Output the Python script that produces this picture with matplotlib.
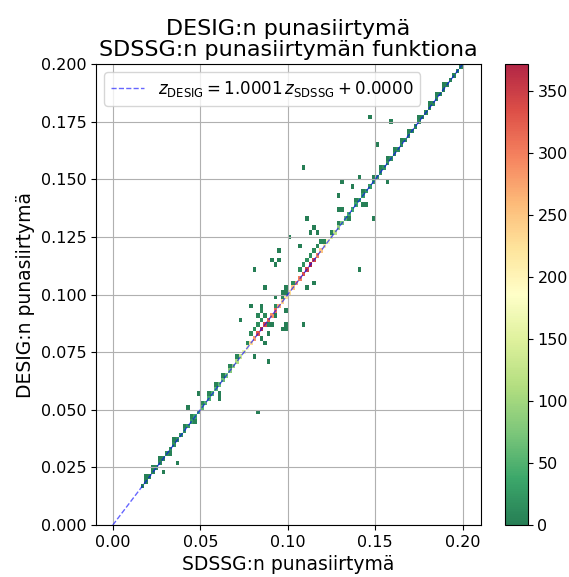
import matplotlib
matplotlib.use("Agg")
import matplotlib.pyplot as plt
import numpy as np

# redshift bins lying on the diagonal (SDSS z == DESI z) and their counts
diag_z = [0.017, 0.019, 0.021, 0.023, 0.025, 0.027, 0.029, 0.031, 0.033, 0.035,
          0.037, 0.039, 0.041, 0.043, 0.045, 0.047, 0.049, 0.051, 0.053, 0.055,
          0.057, 0.059, 0.061, 0.063, 0.065, 0.067, 0.069, 0.071, 0.073, 0.075,
          0.077, 0.079, 0.081, 0.083, 0.085, 0.087, 0.089, 0.091, 0.093, 0.095,
          0.097, 0.099, 0.101, 0.103, 0.105, 0.107, 0.109, 0.111, 0.113, 0.115,
          0.117, 0.119, 0.121, 0.123, 0.125, 0.127, 0.129, 0.131, 0.133, 0.135,
          0.137, 0.139, 0.141, 0.143, 0.145, 0.147, 0.149, 0.151, 0.153, 0.155,
          0.157, 0.159, 0.161, 0.163, 0.165, 0.167, 0.169, 0.171, 0.173, 0.175,
          0.177, 0.179, 0.181, 0.183, 0.185, 0.187, 0.189, 0.191, 0.193, 0.195,
          0.197, 0.199]
diag_n = [3, 4, 5, 6, 8, 9, 10, 12, 14, 15,
          17, 18, 20, 24, 28, 35, 45, 55, 50, 45,
          50, 55, 60, 65, 70, 80, 90, 110, 130, 160,
          190, 230, 280, 330, 360, 340, 320, 290, 310, 270,
          240, 220, 230, 250, 280, 300, 330, 350, 370, 340,
          300, 250, 210, 180, 150, 120, 90, 70, 55, 45,
          40, 36, 32, 30, 28, 26, 24, 22, 20, 18,
          17, 16, 15, 14, 13, 12, 11, 10, 10, 9,
          8, 8, 7, 7, 6, 6, 5, 5, 4, 4,
          3, 3]

# bins just beside the diagonal
near_x = [0.019, 0.023, 0.027, 0.033, 0.035, 0.041, 0.045, 0.047, 0.051, 0.055,
          0.059, 0.063, 0.067, 0.071, 0.077, 0.079, 0.081, 0.083, 0.085, 0.083,
          0.085, 0.087, 0.089, 0.093, 0.097, 0.103, 0.107, 0.109, 0.111, 0.113,
          0.115, 0.117, 0.119, 0.121, 0.125, 0.129, 0.135, 0.139, 0.143, 0.149,
          0.153, 0.157, 0.161, 0.165, 0.169, 0.175, 0.181, 0.185, 0.189]
near_y = [0.021, 0.025, 0.029, 0.031, 0.037, 0.043, 0.047, 0.045, 0.053, 0.057,
          0.061, 0.065, 0.069, 0.073, 0.079, 0.083, 0.085, 0.087, 0.089, 0.091,
          0.093, 0.091, 0.087, 0.095, 0.099, 0.105, 0.111, 0.113, 0.115, 0.117,
          0.119, 0.121, 0.123, 0.123, 0.127, 0.131, 0.133, 0.141, 0.145, 0.151,
          0.155, 0.159, 0.163, 0.167, 0.171, 0.177, 0.183, 0.187, 0.191]
near_n = [2, 3, 2, 3, 2, 4, 6, 5, 8, 6,
          5, 4, 6, 8, 10, 12, 15, 14, 12, 8,
          6, 10, 8, 12, 10, 12, 15, 18, 16, 14,
          12, 10, 8, 6, 5, 4, 3, 3, 4, 3,
          3, 2, 3, 2, 3, 2, 2, 3, 2]

# scattered outliers
out_x = [0.1476, 0.1585, 0.1509, 0.1089, 0.1309, 0.1362, 0.1419, 0.1569, 0.1289, 0.1280,
         0.1300, 0.1429, 0.1449, 0.1493, 0.1109, 0.1143, 0.1124, 0.1162, 0.1013, 0.1070,
         0.0958, 0.0901, 0.0958, 0.0939, 0.0809, 0.1419, 0.0866, 0.1143, 0.1109, 0.0994,
         0.0966, 0.0986, 0.0922, 0.0794, 0.0847, 0.0847, 0.0737, 0.0937, 0.0994, 0.0903,
         0.0960, 0.0994, 0.0994, 0.1089, 0.0884, 0.0847, 0.0866, 0.0809, 0.0884, 0.0826,
         0.0495, 0.0438, 0.0607, 0.0366, 0.0289, 0.0607]
out_y = [0.1762, 0.1746, 0.1652, 0.1558, 0.1486, 0.1468, 0.1503, 0.1486, 0.1428, 0.1370,
         0.1370, 0.1393, 0.1393, 0.1335, 0.1335, 0.1299, 0.1263, 0.1263, 0.1243, 0.1205,
         0.1185, 0.1150, 0.1150, 0.1133, 0.1111, 0.1111, 0.1037, 0.1056, 0.1037, 0.1037,
         0.1001, 0.1001, 0.0981, 0.0945, 0.0955, 0.0935, 0.0890, 0.0907, 0.0930, 0.0875,
         0.0854, 0.0861, 0.0845, 0.0868, 0.0835, 0.0817, 0.0796, 0.0723, 0.0704, 0.0499,
         0.0574, 0.0502, 0.0554, 0.0275, 0.0236, 0.0574]
out_n = [1, 1, 1, 1, 1, 1, 1, 1, 1, 2,
         2, 2, 2, 1, 1, 1, 1, 1, 1, 1,
         1, 1, 1, 1, 1, 1, 1, 1, 1, 1,
         1, 1, 1, 1, 2, 2, 1, 1, 1, 1,
         1, 1, 1, 1, 1, 1, 1, 1, 1, 1,
         1, 1, 1, 1, 1, 1]

slope = 1.0001
intercept = 0.0000

x = np.concatenate([diag_z, near_x, out_x])
y = np.concatenate([diag_z, near_y, out_y])
w = np.concatenate([diag_n, near_n, out_n])

fig = plt.figure(figsize=(5.69, 5.77), dpi=100)
ax = fig.add_axes([0.169, 0.090, 0.676, 0.799])
cax = fig.add_axes([0.8875, 0.090, 0.040, 0.799])

edges = np.linspace(0.0, 0.2, 101)
h = ax.hist2d(x, y, bins=[edges, edges], weights=w, cmin=1,
              cmap='RdYlGn_r', vmin=0, vmax=372, alpha=0.85)

lx = np.array([0.0, 0.2])
ax.plot(lx, slope * lx + intercept, '--', color='blue', alpha=0.6, lw=1,
        label=r'$z_{\mathrm{DESIG}} = %.4f\,z_{\mathrm{SDSSG}} + %.4f$' % (slope, intercept))

ax.set_xlim(-0.0095, 0.2103)
ax.set_ylim(0, 0.2)
ax.set_xticks([0.0, 0.05, 0.10, 0.15, 0.20])
ax.set_yticks([0.0, 0.025, 0.05, 0.075, 0.1, 0.125, 0.15, 0.175, 0.2])
ax.set_xticklabels(['0.00', '0.05', '0.10', '0.15', '0.20'])
ax.set_yticklabels(['0.000', '0.025', '0.050', '0.075', '0.100', '0.125', '0.150', '0.175', '0.200'])
ax.tick_params(labelsize=11.5)
ax.grid(True)
ax.legend(loc='upper left', fontsize=12)
ax.set_xlabel('SDSSG:n punasiirtymä', fontsize=13.5)
ax.set_ylabel('DESIG:n punasiirtymä', fontsize=13.5)
ax.set_title('DESIG:n punasiirtymä\nSDSSG:n punasiirtymän funktiona', fontsize=16,
             linespacing=1.05)

cb = fig.colorbar(h[3], cax=cax)
cb.set_ticks([0, 50, 100, 150, 200, 250, 300, 350])
cb.ax.tick_params(labelsize=11.5)

fig.savefig('out.png', dpi=100)
